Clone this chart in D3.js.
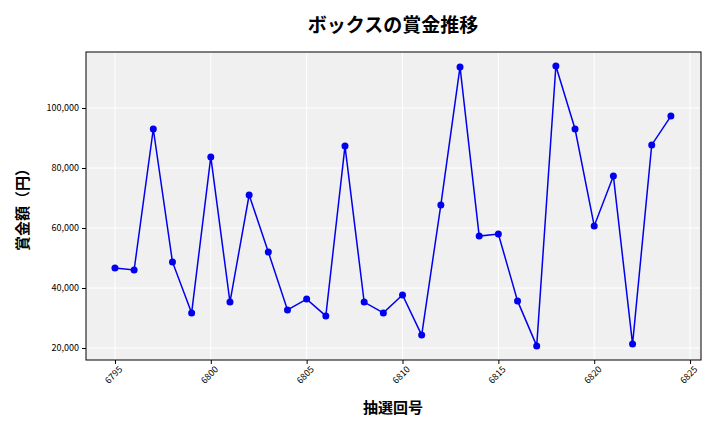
<!DOCTYPE html>
<html><head><meta charset="utf-8">
<script src="https://cdn.jsdelivr.net/npm/d3@7"></script>
<style>body{margin:0;background:#fff}text{font-family:"Noto Sans CJK JP","DejaVu Sans",sans-serif}</style>
</head><body><svg id="c" width="720" height="432"></svg>
<script>
const draws = d3.range(6795, 6825);
const prizes = [46700,46000,93000,48700,31700,83700,35300,71000,52000,32700,36300,30700,87300,35300,31700,37700,24300,67700,113700,57300,58000,35700,20700,114000,93000,60700,77300,21300,87700,97300];
const xTicks = [6795,6800,6805,6810,6815,6820,6825];
const yTicks = [20000,40000,60000,80000,100000];

const svg = d3.select('#c');
const m = {l:86, r:701, t:52, b:360};
const x = d3.scaleLinear().domain([6793.49, 6825.57]).range([m.l, m.r]);
const y = d3.scaleLinear().domain([16000, 118667]).range([m.b, m.t]);

svg.append('rect').attr('x',m.l).attr('y',m.t).attr('width',m.r-m.l).attr('height',m.b-m.t).attr('fill','#f0f0f0');
svg.append('g').selectAll('line').data(xTicks).join('line')
  .attr('x1',d=>x(d)).attr('x2',d=>x(d)).attr('y1',m.t).attr('y2',m.b).attr('stroke','#fff');
svg.append('g').selectAll('line').data(yTicks).join('line')
  .attr('x1',m.l).attr('x2',m.r).attr('y1',d=>y(d)).attr('y2',d=>y(d)).attr('stroke','#fff');

const gx = svg.append('g').attr('transform',`translate(0,${m.b})`)
  .call(d3.axisBottom(x).tickValues(xTicks).tickFormat(d3.format('d')).tickSize(4));
gx.selectAll('text').attr('font-size',9).attr('transform','rotate(-45)').attr('text-anchor','end').attr('dx','-0.2em').attr('dy','0.6em');
const gy = svg.append('g').attr('transform',`translate(${m.l},0)`)
  .call(d3.axisLeft(y).tickValues(yTicks).tickFormat(d3.format(',')).tickSize(4));
gy.selectAll('text').attr('font-size',9);
svg.selectAll('.domain').remove();
svg.append('rect').attr('x',m.l).attr('y',m.t).attr('width',m.r-m.l).attr('height',m.b-m.t).attr('fill','none').attr('stroke','#000');

const pts = draws.map((d,i)=>[d,prizes[i]]);
svg.append('path').datum(pts).attr('fill','none').attr('stroke','#0000ee').attr('stroke-width',1.5)
  .attr('d',d3.line().x(d=>x(d[0])).y(d=>y(d[1])));
svg.append('g').selectAll('circle').data(pts).join('circle')
  .attr('cx',d=>x(d[0])).attr('cy',d=>y(d[1])).attr('r',3.5).attr('fill','#0000ee');

svg.append('text').attr('x',393).attr('y',32).attr('text-anchor','middle').attr('font-size',19).attr('font-weight','bold').text('ボックスの賞金推移');
svg.append('text').attr('x',393).attr('y',413).attr('text-anchor','middle').attr('font-size',15).attr('font-weight','bold').text('抽選回号');
svg.append('text').attr('transform','translate(28,206) rotate(-90)').attr('text-anchor','middle').attr('font-size',15).attr('font-weight','bold').text('賞金額（円）');
</script></body></html>
